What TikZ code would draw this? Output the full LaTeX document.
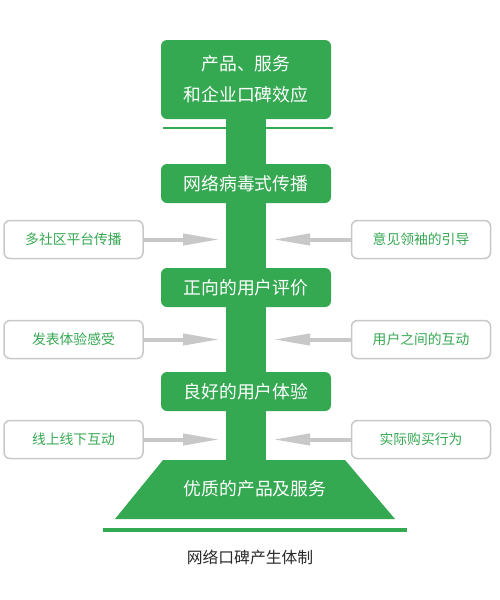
\documentclass[tikz,border=0pt]{standalone}
\usepackage{fontspec}
\setmainfont{Noto Sans CJK SC}
\usetikzlibrary{arrows.meta}
\definecolor{gr}{RGB}{53,168,82}
\definecolor{gy}{RGB}{200,200,200}
\definecolor{cap}{RGB}{40,40,40}
\begin{document}
\begin{tikzpicture}[x=1pt,y=-1pt,
  mainbox/.style={fill=gr,rounded corners=6pt,minimum width=170pt,minimum height=39pt,inner sep=0pt,text=white,font=\fontsize{17.8}{31}\selectfont,align=center},
  sidebox/.style={draw=gy,line width=1.5pt,fill=white,rounded corners=6pt,minimum width=139pt,minimum height=38pt,inner sep=0pt,text=gr,font=\fontsize{13.8}{16}\selectfont},
  sidearrow/.style={draw=gy,line width=4pt,-{Triangle[length=37pt,width=11pt]}}]
\useasboundingbox (0,0) rectangle (500,600);
% trunk
\fill[gr] (226,110) rectangle (266,462);
% top box
\node[mainbox,minimum height=79pt] (top) at (246,79.5) {产品、服务\\和企业口碑效应};
\draw[gr,line width=2pt] (163,128) -- (333,128);
% main boxes
\node[mainbox] (b1) at (246,183.5) {网络病毒式传播};
\node[mainbox] (b2) at (246,287.5) {正向的用户评价};
\node[mainbox] (b3) at (246,391.5) {良好的用户体验};
% trapezoid
\fill[gr] (163,460) -- (345,460) -- (395,519) -- (115,519) -- cycle;
\node[text=white,font=\fontsize{17.8}{20}\selectfont] (base) at (255,489) {优质的产品及服务};
\draw[gr,line width=4pt] (103,530) -- (407,530);
\node[text=cap,font=\fontsize{15.8}{18}\selectfont] (caption) at (250,557) {网络口碑产生体制};
% side boxes
\node[sidebox] (l1) at (73.5,239.5) {多社区平台传播};
\node[sidebox] (r1) at (421,239.5) {意见领袖的引导};
\node[sidebox] (l2) at (73.5,339.5) {发表体验感受};
\node[sidebox] (r2) at (421,339.5) {用户之间的互动};
\node[sidebox] (l3) at (73.5,439.5) {线上线下互动};
\node[sidebox] (r3) at (421,439.5) {实际购买行为};
% arrow ends
\coordinate (la1) at (220,239.5);
\coordinate (ra1) at (273,239.5);
\coordinate (la2) at (220,339.5);
\coordinate (ra2) at (273,339.5);
\coordinate (la3) at (220,439.5);
\coordinate (ra3) at (273,439.5);
\draw[sidearrow] (l1.east) -- (la1);
\draw[sidearrow] (r1.west) -- (ra1);
\draw[sidearrow] (l2.east) -- (la2);
\draw[sidearrow] (r2.west) -- (ra2);
\draw[sidearrow] (l3.east) -- (la3);
\draw[sidearrow] (r3.west) -- (ra3);
\end{tikzpicture}
\end{document}
